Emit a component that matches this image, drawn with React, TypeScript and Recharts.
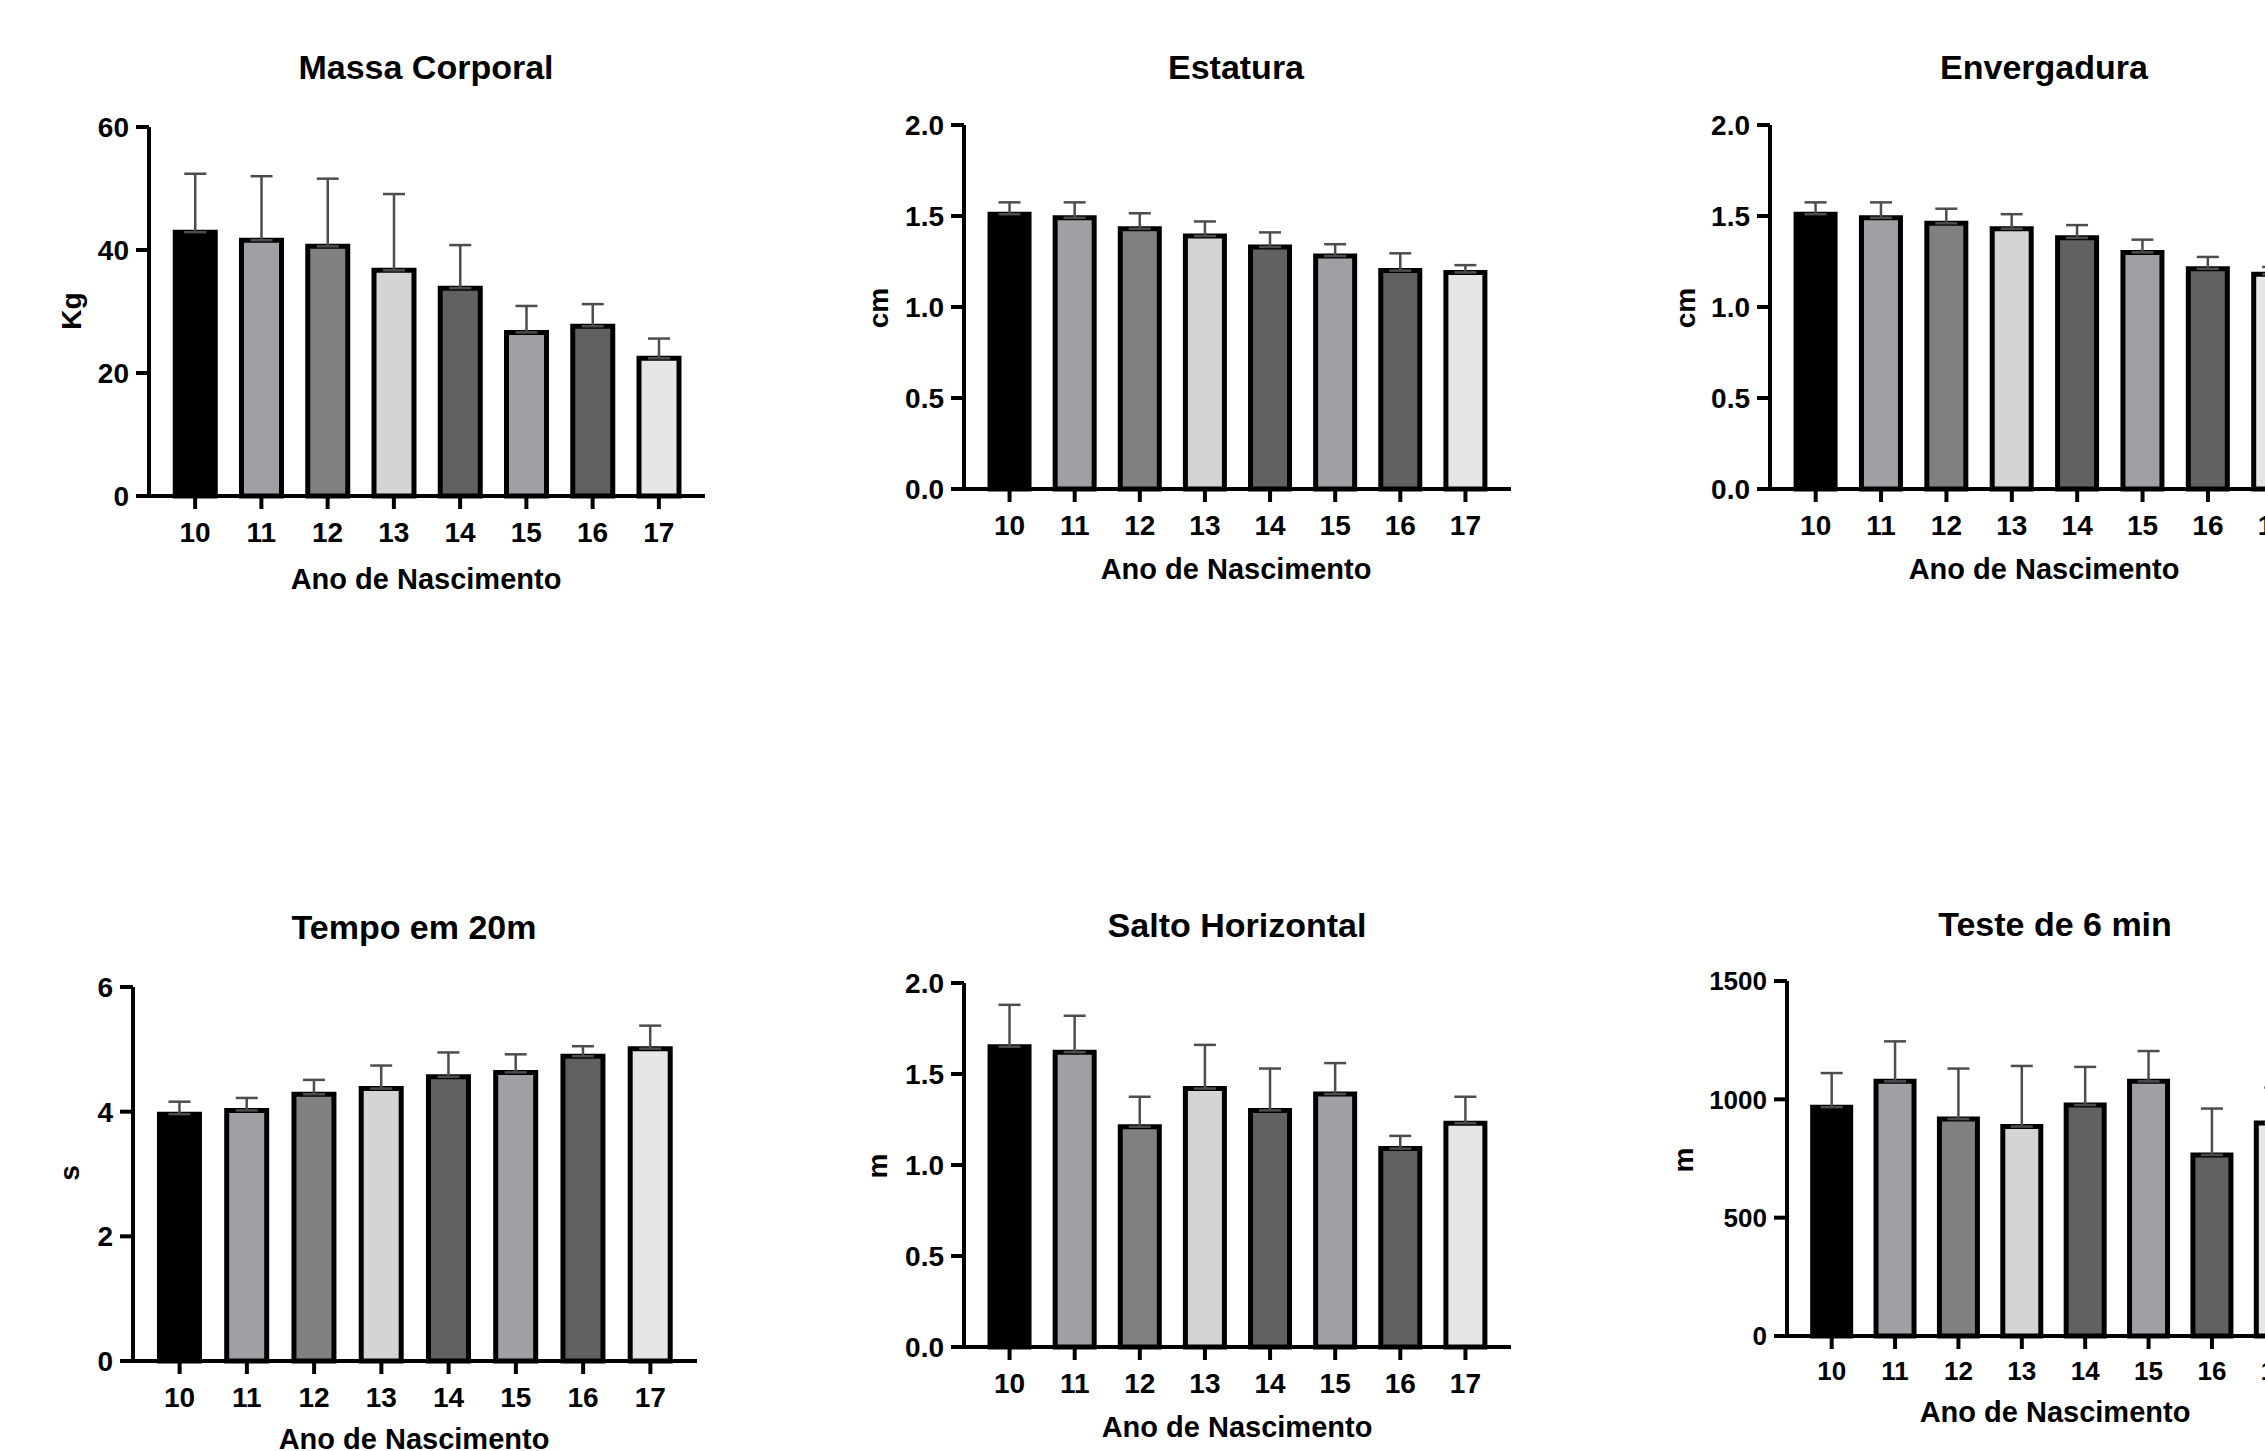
import React from 'react'
import { BarChart, Bar, XAxis, YAxis, Cell, ErrorBar } from 'recharts'

// ano de nascimento (20xx)
const anos = ['10', '11', '12', '13', '14', '15', '16', '17']

const massaMedia = [42.9, 41.6, 40.6, 36.7, 33.8, 26.6, 27.6, 22.4]
const massaDp = [9.5, 10.4, 11.0, 12.4, 7.0, 4.3, 3.6, 3.2]

const estaturaMedia = [1.51, 1.49, 1.43, 1.39, 1.33, 1.28, 1.2, 1.19]
const estaturaDp = [0.065, 0.085, 0.085, 0.08, 0.08, 0.065, 0.095, 0.04]

const envergaduraMedia = [1.51, 1.49, 1.46, 1.43, 1.38, 1.3, 1.21, 1.18]
const envergaduraDp = [0.065, 0.085, 0.08, 0.08, 0.07, 0.07, 0.065, 0.04]

const tempoMedia = [3.96, 4.02, 4.28, 4.37, 4.56, 4.63, 4.89, 5.01]
const tempoDp = [0.2, 0.2, 0.23, 0.37, 0.39, 0.29, 0.16, 0.37]

const saltoMedia = [1.65, 1.62, 1.21, 1.42, 1.3, 1.39, 1.09, 1.23]
const saltoDp = [0.23, 0.2, 0.165, 0.24, 0.23, 0.17, 0.07, 0.145]

const testeMedia = [967, 1076, 917, 885, 976, 1076, 765, 900]
const testeDp = [144, 169, 213, 256, 161, 128, 196, 150]

const ticksMassa = [0, 20, 40, 60]
const ticksMetro = [0, 0.5, 1, 1.5, 2]
const ticksTempo = [0, 2, 4, 6]
const ticksTeste = [0, 500, 1000, 1500]

const cores = ['#000000', '#a0a0a4', '#808080', '#d4d4d4', '#616161', '#a0a0a4', '#606060', '#e6e6e6']

const FONT = "'Liberation Sans', Arial, sans-serif"

interface PainelProps {
  titulo: string
  unidade: string
  media: number[]
  dp: number[]
  ticks: number[]
  decimais: number
  axisX: number
  top: number
  bottom: number
  right: number
  titleX: number
  titleY: number
  xLabelY: number
  yLabelX: number
  yLabelY: number
  tickSize?: number
}

function Painel(p: PainelProps) {
  const data = anos.map((ano, i) => ({ ano, media: p.media[i], dp: p.dp[i] }))
  const yw = 100
  const mt = 20
  const mr = 20
  const xh = 70
  const plotW = p.right - p.axisX
  const plotH = p.bottom - p.top
  const tickStyle = { fill: '#000', fontSize: p.tickSize || 28, fontWeight: 700, fontFamily: FONT }

  const texto = (x: number, y: number, s: string, size: number, rot = false) => (
    <div
      style={{
        position: 'absolute',
        left: x,
        top: y,
        transform: `translate(-50%, -50%)${rot ? ' rotate(-90deg)' : ''}`,
        fontFamily: FONT,
        fontWeight: 700,
        fontSize: size,
        lineHeight: 1,
        whiteSpace: 'nowrap',
        color: '#000',
      }}
    >
      {s}
    </div>
  )

  return (
    <>
      {texto(p.titleX, p.titleY, p.titulo, 34)}
      {texto(p.titleX, p.xLabelY, 'Ano de Nascimento', 29)}
      {texto(p.yLabelX, p.yLabelY, p.unidade, 28, true)}
      <div style={{ position: 'absolute', left: p.axisX - yw, top: p.top - mt }}>
        <BarChart
          width={yw + plotW + mr}
          height={mt + plotH + xh}
          data={data}
          margin={{ top: mt, right: mr, left: 0, bottom: 0 }}
          barCategoryGap="20%"
        >
          <XAxis
            dataKey="ano"
            height={xh}
            interval={0}
            padding={{ left: 13, right: 13 }}
            tickSize={13}
            tickMargin={13}
            tick={tickStyle}
            tickLine={{ stroke: '#000', strokeWidth: 4 }}
            axisLine={{ stroke: '#000', strokeWidth: 4 }}
          />
          <YAxis
            type="number"
            width={yw}
            domain={[p.ticks[0], p.ticks[p.ticks.length - 1]]}
            ticks={p.ticks}
            interval={0}
            tickSize={13}
            tickMargin={7}
            tick={tickStyle}
            tickFormatter={(v: number) => v.toFixed(p.decimais)}
            tickLine={{ stroke: '#000', strokeWidth: 4 }}
            axisLine={{ stroke: '#000', strokeWidth: 4 }}
          />
          <Bar dataKey="media" stroke="#000" strokeWidth={5} isAnimationActive={false}>
            {data.map((d, i) => (
              <Cell key={d.ano} fill={cores[i]} />
            ))}
            <ErrorBar
              dataKey={(d: any) => [0, d.dp]}
              direction="y"
              width={11}
              stroke="#4d4d4d"
              strokeWidth={2.5}
              isAnimationActive={false}
            />
          </Bar>
        </BarChart>
      </div>
    </>
  )
}

export default function App() {
  return (
    <div
      style={{
        position: 'fixed',
        left: 0,
        top: 0,
        width: 2265,
        height: 1451,
        overflow: 'hidden',
        background: '#fff',
      }}
    >
      <Painel
        titulo="Massa Corporal"
        unidade="Kg"
        media={massaMedia}
        dp={massaDp}
        ticks={ticksMassa}
        decimais={0}
        axisX={149}
        top={127}
        bottom={496}
        right={705}
        titleX={426}
        titleY={67}
        xLabelY={579}
        yLabelX={72}
        yLabelY={311}
      />
      <Painel
        titulo="Estatura"
        unidade="cm"
        media={estaturaMedia}
        dp={estaturaDp}
        ticks={ticksMetro}
        decimais={1}
        axisX={964}
        top={125}
        bottom={489}
        right={1511}
        titleX={1236}
        titleY={67}
        xLabelY={569}
        yLabelX={879}
        yLabelY={308}
      />
      <Painel
        titulo="Envergadura"
        unidade="cm"
        media={envergaduraMedia}
        dp={envergaduraDp}
        ticks={ticksMetro}
        decimais={1}
        axisX={1770}
        top={125}
        bottom={489}
        right={2319}
        titleX={2044}
        titleY={67}
        xLabelY={569}
        yLabelX={1686}
        yLabelY={308}
      />
      <Painel
        titulo="Tempo em 20m"
        unidade="s"
        media={tempoMedia}
        dp={tempoDp}
        ticks={ticksTempo}
        decimais={0}
        axisX={133}
        top={987}
        bottom={1361}
        right={697}
        titleX={414}
        titleY={927}
        xLabelY={1439}
        yLabelX={70}
        yLabelY={1173}
      />
      <Painel
        titulo="Salto Horizontal"
        unidade="m"
        media={saltoMedia}
        dp={saltoDp}
        ticks={ticksMetro}
        decimais={1}
        axisX={964}
        top={983}
        bottom={1347}
        right={1511}
        titleX={1237}
        titleY={925}
        xLabelY={1427}
        yLabelX={878}
        yLabelY={1166}
      />
      <Painel
        titulo="Teste de 6 min"
        unidade="m"
        media={testeMedia}
        dp={testeDp}
        ticks={ticksTeste}
        decimais={0}
        axisX={1787}
        top={981}
        bottom={1336}
        right={2320}
        titleX={2055}
        titleY={924}
        xLabelY={1412}
        yLabelX={1684}
        yLabelY={1160}
        tickSize={26}
      />
    </div>
  )
}
